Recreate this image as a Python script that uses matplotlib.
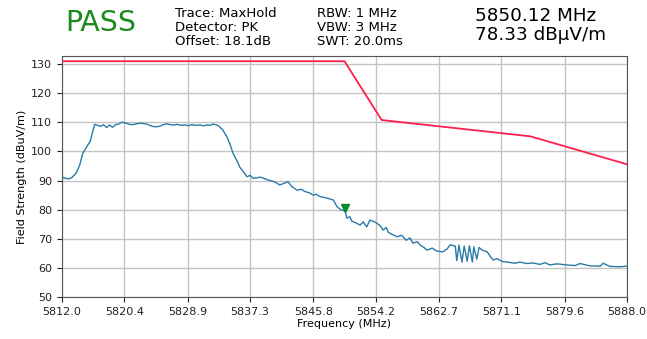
import matplotlib
matplotlib.use("Agg")
import matplotlib.pyplot as plt
import matplotlib.transforms as mtransforms
import numpy as np

# ---- data ----
trace_freq = [
    5812.0, 5812.4, 5812.9, 5813.3, 5813.7, 5814.0, 5814.4, 5814.8, 5815.3, 5815.8,
    5816.1, 5816.4, 5816.8, 5817.2, 5817.6, 5818.0, 5818.4, 5818.8, 5819.2, 5819.6,
    5820.1, 5820.6, 5821.0, 5821.5, 5822.0, 5822.5, 5823.0, 5823.4, 5823.8, 5824.2,
    5824.7, 5825.2, 5825.6, 5826.1, 5826.6, 5827.0, 5827.5, 5828.0, 5828.5, 5829.0,
    5829.5, 5830.0, 5830.6, 5831.0, 5831.5, 5832.0, 5832.3, 5832.7, 5833.0, 5833.6,
    5834.2, 5834.6, 5835.0, 5835.5, 5835.9, 5836.4, 5836.9, 5837.3, 5837.7, 5838.2,
    5838.6, 5839.0, 5839.5, 5840.0, 5840.6, 5841.3, 5841.8, 5842.4, 5842.9, 5843.6,
    5844.2, 5844.7, 5845.3, 5845.8, 5846.2, 5846.7, 5847.3, 5847.9, 5848.5, 5849.0,
    5849.5, 5850.1, 5850.3, 5850.7, 5851.0, 5851.5, 5852.1, 5852.5, 5853.0, 5853.4,
    5854.1, 5854.8, 5855.2, 5855.6, 5855.9, 5856.4, 5857.1, 5857.7, 5858.3, 5858.8,
    5859.2, 5859.8, 5860.2, 5860.7, 5861.1, 5861.8, 5862.4, 5863.2, 5863.8, 5864.2,
    5864.9, 5865.1, 5865.4, 5865.8, 5866.1, 5866.5, 5866.8, 5867.2, 5867.4, 5867.8,
    5868.1, 5868.6, 5869.2, 5869.6, 5870.0, 5870.5, 5871.2, 5871.9, 5872.9, 5873.6,
    5874.5, 5875.3, 5876.3, 5877.0, 5877.6, 5878.6, 5879.9, 5881.0, 5881.7, 5883.0,
    5884.4, 5884.8, 5885.7, 5887.1, 5888.0,
]
trace_level = [
    91.3, 90.8, 90.6, 91.0, 92.0, 93.0, 95.5, 99.4, 101.5, 103.5,
    106.5, 109.3, 109.0, 108.6, 109.2, 108.2, 109.1, 108.3, 109.2, 109.4,
    110.1, 109.7, 109.4, 109.2, 109.5, 109.7, 109.6, 109.4, 109.0, 108.6,
    108.5, 108.7, 109.2, 109.5, 109.2, 109.1, 109.3, 109.0, 109.1, 108.9,
    109.2, 109.0, 109.1, 108.8, 109.1, 109.0, 109.4, 109.2, 108.9, 107.5,
    105.0, 102.5, 99.4, 97.0, 94.7, 93.0, 91.3, 91.8, 90.8, 90.9,
    91.2, 90.9, 90.4, 90.0, 89.6, 88.5, 89.0, 89.6, 88.0, 86.7,
    87.0, 86.2, 85.8, 85.0, 85.3, 84.5, 84.2, 83.8, 83.3, 81.0,
    80.0, 79.5, 77.1, 77.6, 76.0, 75.5, 74.7, 75.8, 74.1, 76.4,
    75.8, 74.5, 73.0, 73.9, 72.2, 71.5, 70.7, 71.2, 69.5, 70.3,
    68.5, 69.0, 67.8, 67.0, 66.1, 66.8, 65.8, 65.5, 66.5, 67.9,
    67.5, 62.5, 67.8, 62.0, 67.5, 62.3, 67.6, 62.0, 67.2, 63.0,
    67.0, 66.0, 65.5, 64.0, 62.7, 63.2, 62.2, 62.0, 61.6, 62.0,
    61.5, 61.7, 61.2, 61.8, 61.0, 61.4, 61.0, 60.8, 61.5, 60.7,
    60.6, 61.6, 60.5, 60.4, 60.6,
]
limit_freq = [5812.0, 5850.0, 5855.0, 5875.0, 5888.0]
limit_level = [131.0, 131.0, 110.8, 105.2, 95.6]

marker_freq = 5850.12
marker_level = 78.33

x_ticks = [5812.0, 5820.4, 5828.9, 5837.3, 5845.8, 5854.2, 5862.7, 5871.1, 5879.6, 5888.0]
y_ticks = [50, 60, 70, 80, 90, 100, 110, 120, 130]

info_col1 = ["Trace: MaxHold", "Detector: PK", "Offset: 18.1dB"]
info_col2 = ["RBW: 1 MHz", "VBW: 3 MHz", "SWT: 20.0ms"]
marker_text = ["5850.12 MHz", "78.33 dB\u00b5V/m"]

# ---- figure ----
plt.rcParams['font.family'] = ['DejaVu Sans']
fig = plt.figure(figsize=(6.47, 3.39), dpi=100)
ax = fig.add_axes([0.0958, 0.1239, 0.8733, 0.7109])

ax.plot(trace_freq, trace_level, color='#2a7aa8', lw=1.0, zorder=3)
ax.plot(limit_freq, limit_level, color='#ff1f4b', lw=1.3, zorder=4)

off = mtransforms.offset_copy(ax.transData, fig=fig, x=0, y=5, units='points')
ax.plot([marker_freq], [marker_level], marker='v', color='#0a8a2a', ms=6,
        transform=off, zorder=5)

ax.set_xlim(5812.0, 5888.0)
ax.set_ylim(50, 132.8)
ax.set_xticks(x_ticks)
ax.set_xticklabels([f"{t:.1f}" for t in x_ticks])
ax.set_yticks(y_ticks)
ax.tick_params(labelsize=8, colors='#222222', length=3.5)
ax.grid(True, color='#c4c4c4', lw=1.0)
ax.set_axisbelow(True)
for s in ax.spines.values():
    s.set_color('#555555')
ax.set_xlabel("Frequency (MHz)", fontsize=8, labelpad=2)
ax.set_ylabel("Field Strength (dBuV/m)", fontsize=8, labelpad=3)

fig.text(65 / 647, 1 - 31 / 339, "PASS", color='#1a8a1a', fontsize=20.5, va='baseline', ha='left')
fig.text(175 / 647, 1 - 7 / 339, "\n".join(info_col1), fontsize=9.5,
         va='top', ha='left', linespacing=1.1)
fig.text(317 / 647, 1 - 7 / 339, "\n".join(info_col2), fontsize=9.5,
         va='top', ha='left', linespacing=1.1)
fig.text(475 / 647, 1 - 7 / 339, "\n".join(marker_text), fontsize=13.2,
         va='top', ha='left', linespacing=1.1)

fig.savefig("out.png", dpi=100)
